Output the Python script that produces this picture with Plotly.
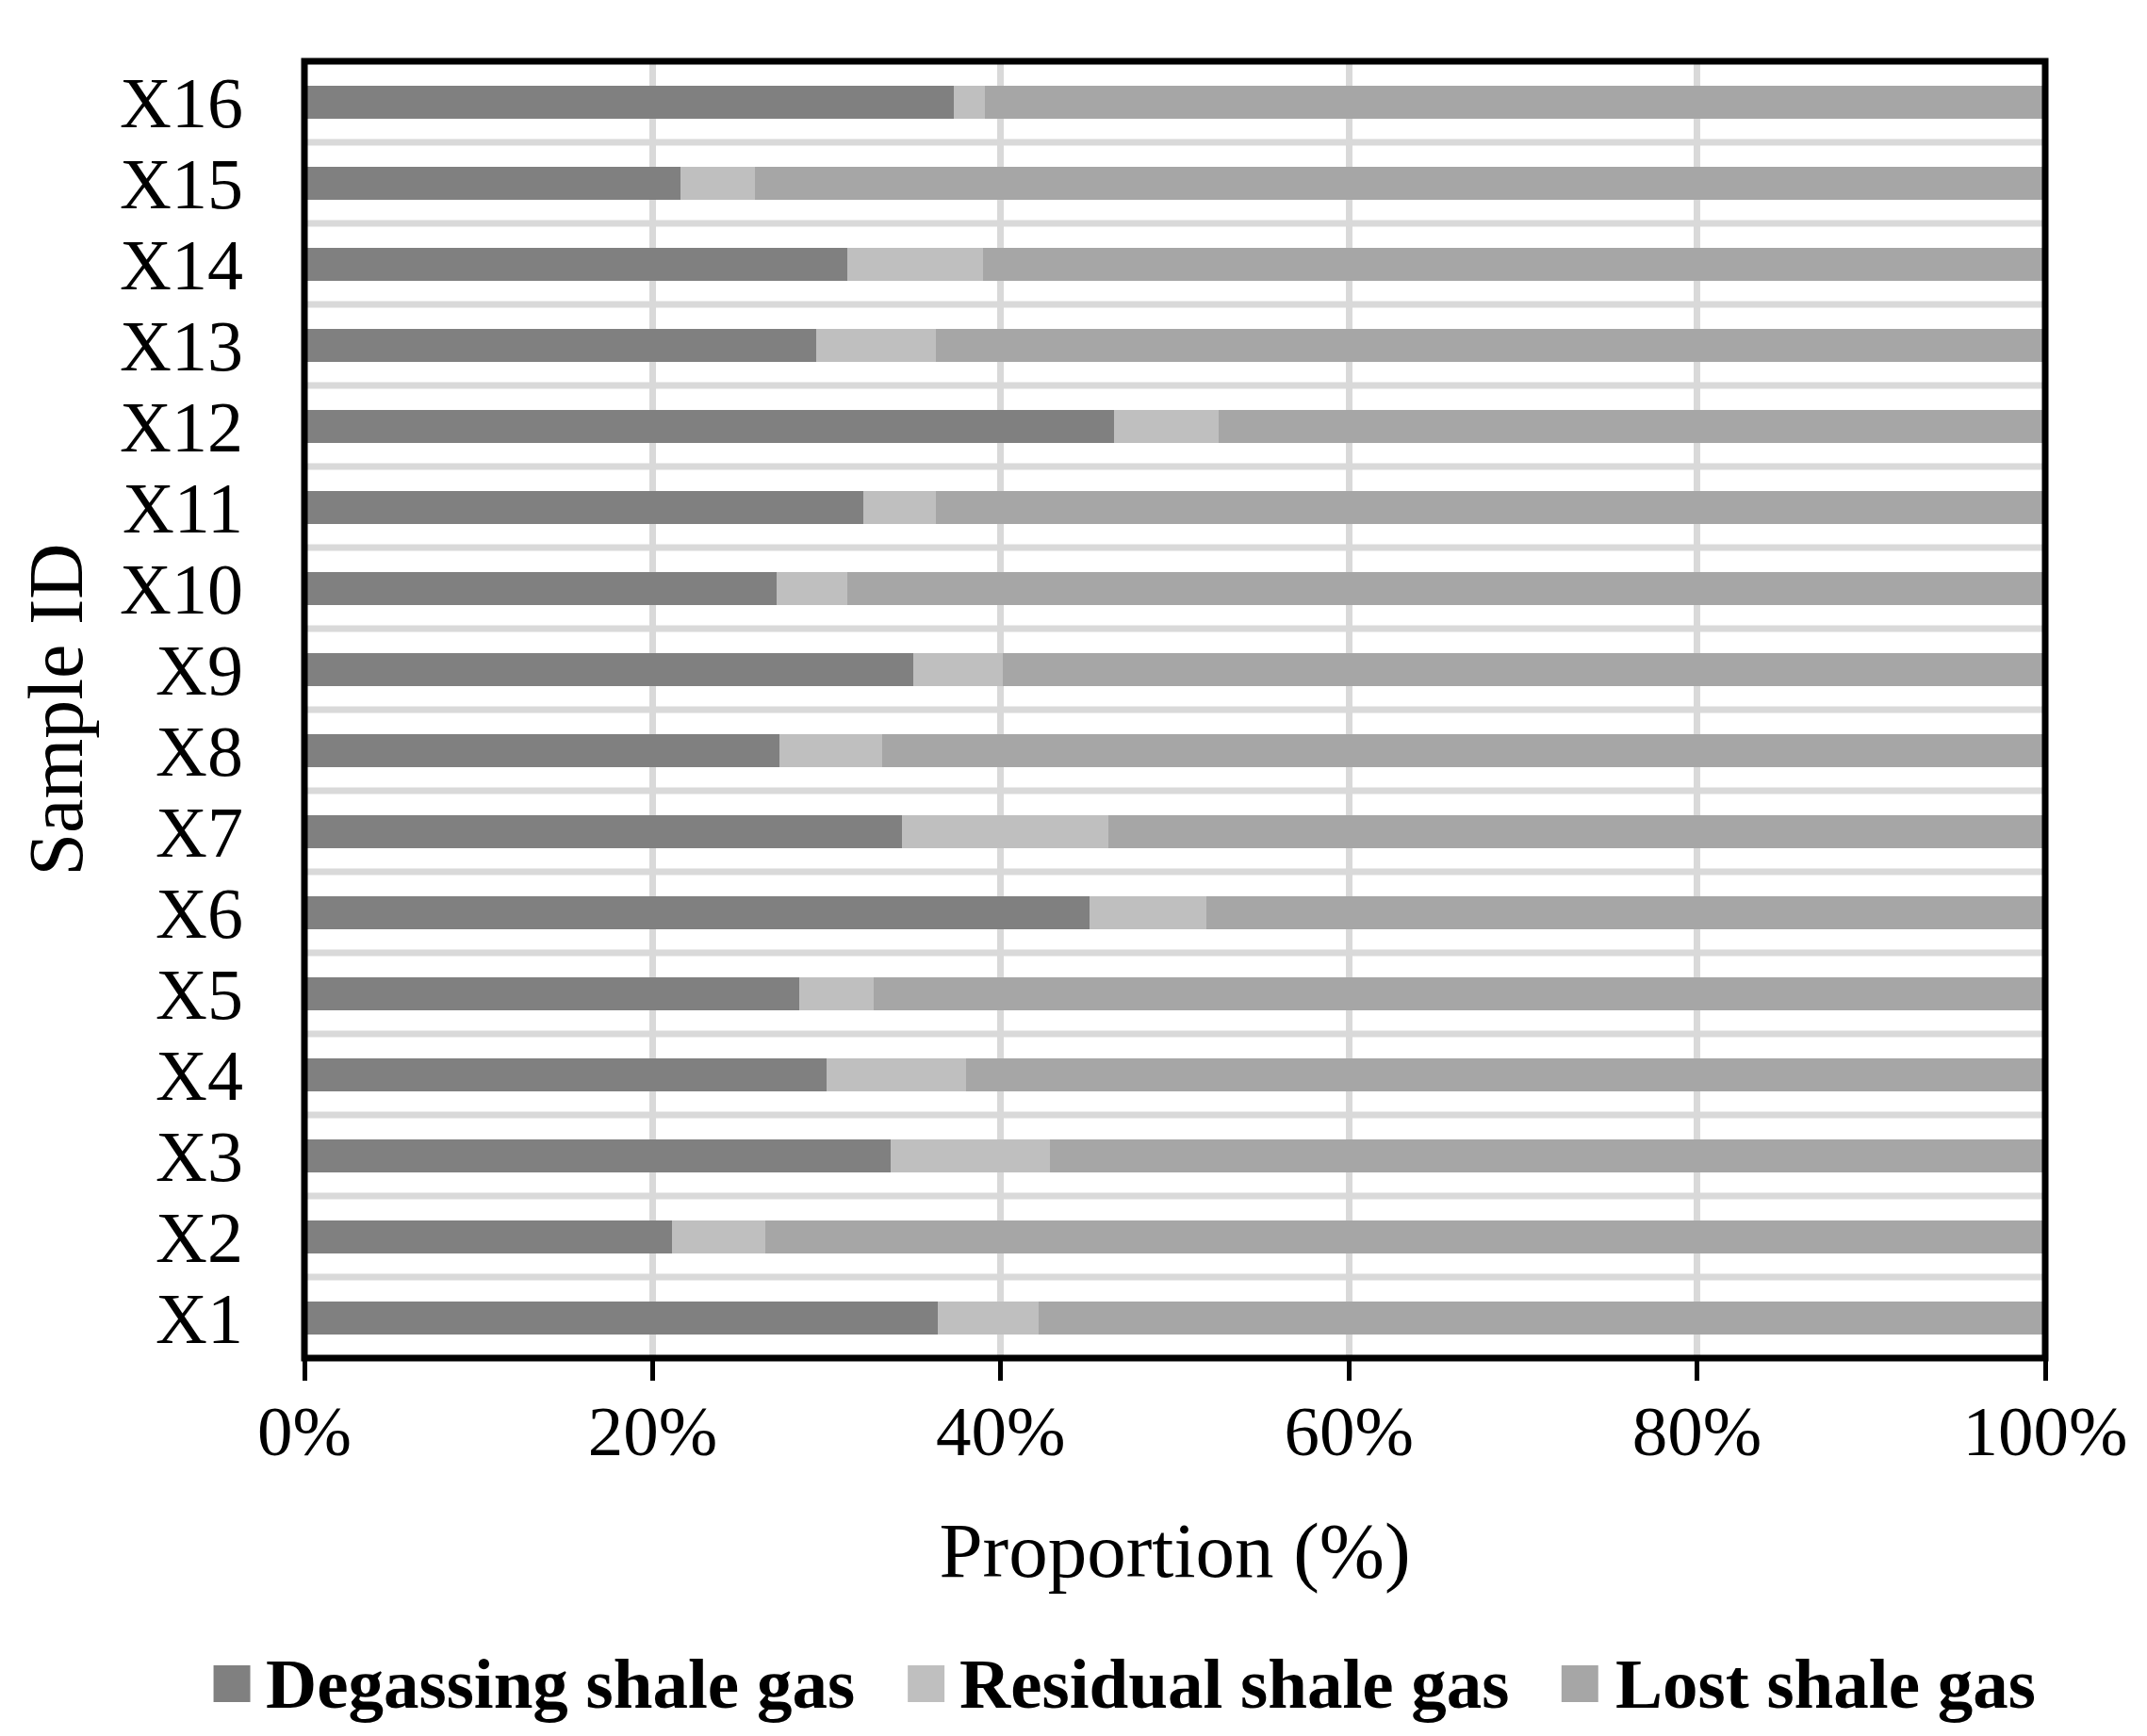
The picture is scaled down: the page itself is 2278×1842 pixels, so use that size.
import plotly.graph_objects as go

samples = ["X1", "X2", "X3", "X4", "X5", "X6", "X7", "X8",
           "X9", "X10", "X11", "X12", "X13", "X14", "X15", "X16"]
degassing = [36.4, 21.1, 33.7, 30.0, 28.4, 45.1, 34.3, 27.3,
             35.0, 27.1, 32.1, 46.5, 29.4, 31.2, 21.6, 37.3]
residual = [5.8, 5.4, 9.1, 8.0, 4.3, 6.7, 11.9, 5.9,
            5.1, 4.1, 4.2, 6.0, 6.9, 7.8, 4.3, 1.8]
lost = [round(100 - d - r, 1) for d, r in zip(degassing, residual)]

series_names = ["Degassing shale gas", "Residual shale gas", "Lost shale gas"]
series_colors = ["#808080", "#bfbfbf", "#a6a6a6"]
x_ticks = [0, 20, 40, 60, 80, 100]
x_tick_labels = ["0%", "20%", "40%", "60%", "80%", "100%"]

FONT = "Liberation Serif, Times New Roman, serif"
GRID = "#d9d9d9"
W, H = 2278, 1842
OFF = 8  # page body margin offset
Lp, Rp, Tp, Bp = 322.5, 2170.5, 65, 1441
L, R, T, B = Lp - OFF, Rp - OFF, Tp - OFF, Bp - OFF

fig = go.Figure()
for name, vals, col in zip(series_names, [degassing, residual, lost], series_colors):
    fig.add_trace(go.Bar(y=samples, x=vals, name=name, orientation="h",
                         marker=dict(color=col, line=dict(width=0)),
                         showlegend=False))

def px_x(px):
    return (px - Lp) / (Rp - Lp)

def px_y(py):
    return (Bp - py) / (Bp - Tp)

shapes = []
# horizontal separators on category boundaries
for i in range(len(samples) - 1):
    shapes.append(dict(type="line", xref="paper", yref="y", x0=0, x1=1,
                       y0=i + 0.5, y1=i + 0.5,
                       line=dict(color=GRID, width=7), layer="below"))
# plot frame
shapes.append(dict(type="rect", xref="paper", yref="paper", x0=0, x1=1, y0=0, y1=1,
                   line=dict(color="black", width=7), fillcolor="rgba(0,0,0,0)",
                   layer="above"))
annotations = []

# legend (swatches + bold labels)
legend_swatch_x = [226, 963, 1657]
legend_text_x = [279.5, 1016, 1712.5]
sw_size = 39
sw_top = 1767
for name, col, sx, tx in zip(series_names, series_colors, legend_swatch_x, legend_text_x):
    shapes.append(dict(type="rect", xref="paper", yref="paper",
                       x0=px_x(sx), x1=px_x(sx + sw_size),
                       y0=px_y(sw_top + sw_size), y1=px_y(sw_top),
                       fillcolor=col, line=dict(width=0), layer="above"))
    annotations.append(dict(xref="paper", yref="paper", x=px_x(tx), y=px_y(1786),
                            xanchor="left", yanchor="middle", showarrow=False,
                            text="<b>%s</b>" % name,
                            font=dict(family=FONT, size=75, color="black")))

fig.update_layout(
    width=W, height=H,
    margin=dict(l=L, r=W - R, t=T, b=H - B, autoexpand=False),
    barmode="stack", bargap=0.593,
    paper_bgcolor="white", plot_bgcolor="white",
    font=dict(family=FONT, size=75, color="black"),
    shapes=shapes, annotations=annotations,
    showlegend=False,
)
fig.update_xaxes(
    range=[0, 100], tickmode="array", tickvals=x_ticks, ticktext=x_tick_labels,
    showgrid=True, gridcolor=GRID, gridwidth=7, zeroline=False,
    showline=False,
    ticks="outside", ticklen=23, tickwidth=5, tickcolor="black",
    tickfont=dict(family=FONT, size=75, color="black"),
    ticklabelstandoff=-11,
    title=dict(text="Proportion (%)", font=dict(family=FONT, size=83, color="black"),
               standoff=55),
    automargin=False,
)
fig.update_yaxes(
    type="category", categoryorder="array", categoryarray=samples,
    range=[-0.5, 15.5], tickmode="linear", dtick=1,
    showgrid=False, showline=False, zeroline=False,
    ticks="",
    tickfont=dict(family=FONT, size=76, color="black"),
    ticklabelstandoff=64,
    title=dict(text="Sample ID", font=dict(family=FONT, size=82, color="black"),
               standoff=12),
    automargin=False,
)

fig.write_html("out.html")
